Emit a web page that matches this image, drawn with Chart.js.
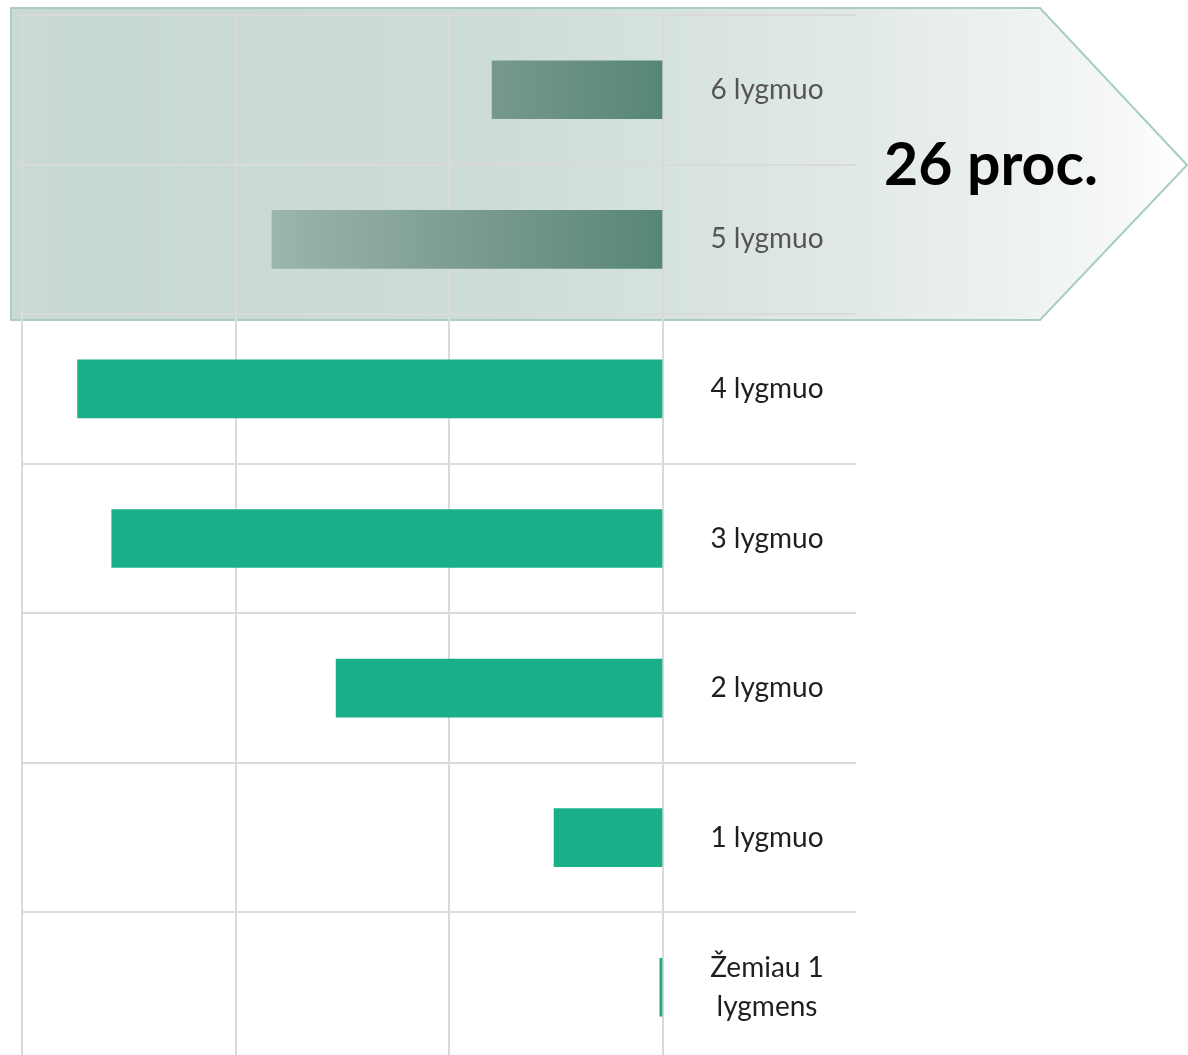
<!DOCTYPE html>
<html>
<head>
<meta charset="utf-8">
<script src="https://cdn.jsdelivr.net/npm/chart.js@4"></script>
<style>
  html, body { margin: 0; padding: 0; background: #fff; overflow: hidden; }
  #wrap { width: 1188px; height: 1062px; position: relative; }
</style>
</head>
<body>
<div id="wrap"><canvas id="levelChart"></canvas></div>
<script>
const categories = ['6 lygmuo', '5 lygmuo', '4 lygmuo', '3 lygmuo', '2 lygmuo', '1 lygmuo', ['Žemiau 1', 'lygmens']];
const shares = [8.0, 18.3, 27.4, 25.8, 15.3, 5.1, 0.15];
const axisTicks = [0, 10, 20, 30];
const highlighted = 2; // first two levels sit under the arrow
const calloutText = '26 proc.';

const labelFont = { family: 'Lato', size: 28, lineHeight: 1.4 };

function widestLabel() {
  const c = document.createElement('canvas').getContext('2d');
  c.font = labelFont.size + 'px ' + labelFont.family;
  let w = 0;
  categories.forEach(l => [].concat(l).forEach(s => { w = Math.max(w, c.measureText(s).width); }));
  return w;
}

const tickLen = 193;
const labelPad = -89 - widestLabel() / 2;
const gridColor = '#dadada';

// arrow callout behind the top two bars
const arrowPlugin = {
  id: 'arrow',
  beforeDraw(chart) {
    const ctx = chart.ctx;
    ctx.save();
    const g = ctx.createLinearGradient(11, 0, 1188, 0);
    g.addColorStop(0, '#cbdad4');
    g.addColorStop(0.05, '#c8d8d2');
    g.addColorStop(0.4, '#cddcd6');
    g.addColorStop(0.56, '#d6e2dd');
    g.addColorStop(0.73, '#e2eae7');
    g.addColorStop(0.92, '#f3f6f5');
    g.addColorStop(1, '#ffffff');
    ctx.beginPath();
    ctx.moveTo(11, 8);
    ctx.lineTo(1040, 8);
    ctx.lineTo(1187, 165);
    ctx.lineTo(1040, 320);
    ctx.lineTo(11, 320);
    ctx.closePath();
    ctx.fillStyle = g;
    ctx.fill();
    ctx.lineWidth = 2;
    ctx.strokeStyle = '#a9cec1';
    ctx.stroke();
    ctx.fillStyle = '#000';
    ctx.font = 'bold 59px Lato';
    ctx.textAlign = 'center';
    ctx.textBaseline = 'middle';
    ctx.fillText(calloutText, 991, 166);
    ctx.restore();
  }
};

function barColor(context) {
  if (context.dataIndex >= highlighted) return '#1aaf88';
  const area = context.chart.chartArea;
  if (!area) return '#6f978a';
  const g = context.chart.ctx.createLinearGradient(area.left, 0, area.right, 0);
  g.addColorStop(0, '#c2d3cc');
  g.addColorStop(0.4, '#9ab5ab');
  g.addColorStop(0.73, '#78998d');
  g.addColorStop(1, '#568677');
  return g;
}

const ctx = document.getElementById('levelChart').getContext('2d');
new Chart(ctx, {
  type: 'bar',
  data: {
    labels: categories,
    datasets: [{
      data: shares,
      backgroundColor: barColor,
      borderWidth: 0,
      barThickness: 58
    }]
  },
  options: {
    indexAxis: 'y',
    responsive: true,
    maintainAspectRatio: false,
    animation: false,
    layout: { padding: { left: 22, right: 332, top: 15, bottom: 0 } },
    plugins: {
      legend: { display: false },
      tooltip: { enabled: false }
    },
    scales: {
      x: {
        reverse: true,
        min: 0,
        max: 30,
        afterBuildTicks: (scale) => { scale.ticks = axisTicks.map(v => ({ value: v })); },
        ticks: { display: false },
        grid: { color: gridColor, lineWidth: 2, drawTicks: false },
        border: { display: false }
      },
      y: {
        position: 'right',
        afterFit: (scale) => { scale.width = tickLen; },
        ticks: {
          crossAlign: 'center',
          padding: labelPad,
          font: labelFont,
          color: (c) => c.index < highlighted ? '#555555' : '#1e1e1e'
        },
        grid: { color: gridColor, lineWidth: 2, tickLength: tickLen, offset: true },
        border: { color: gridColor, width: 2 }
      }
    }
  },
  plugins: [arrowPlugin]
});
</script>
</body>
</html>
